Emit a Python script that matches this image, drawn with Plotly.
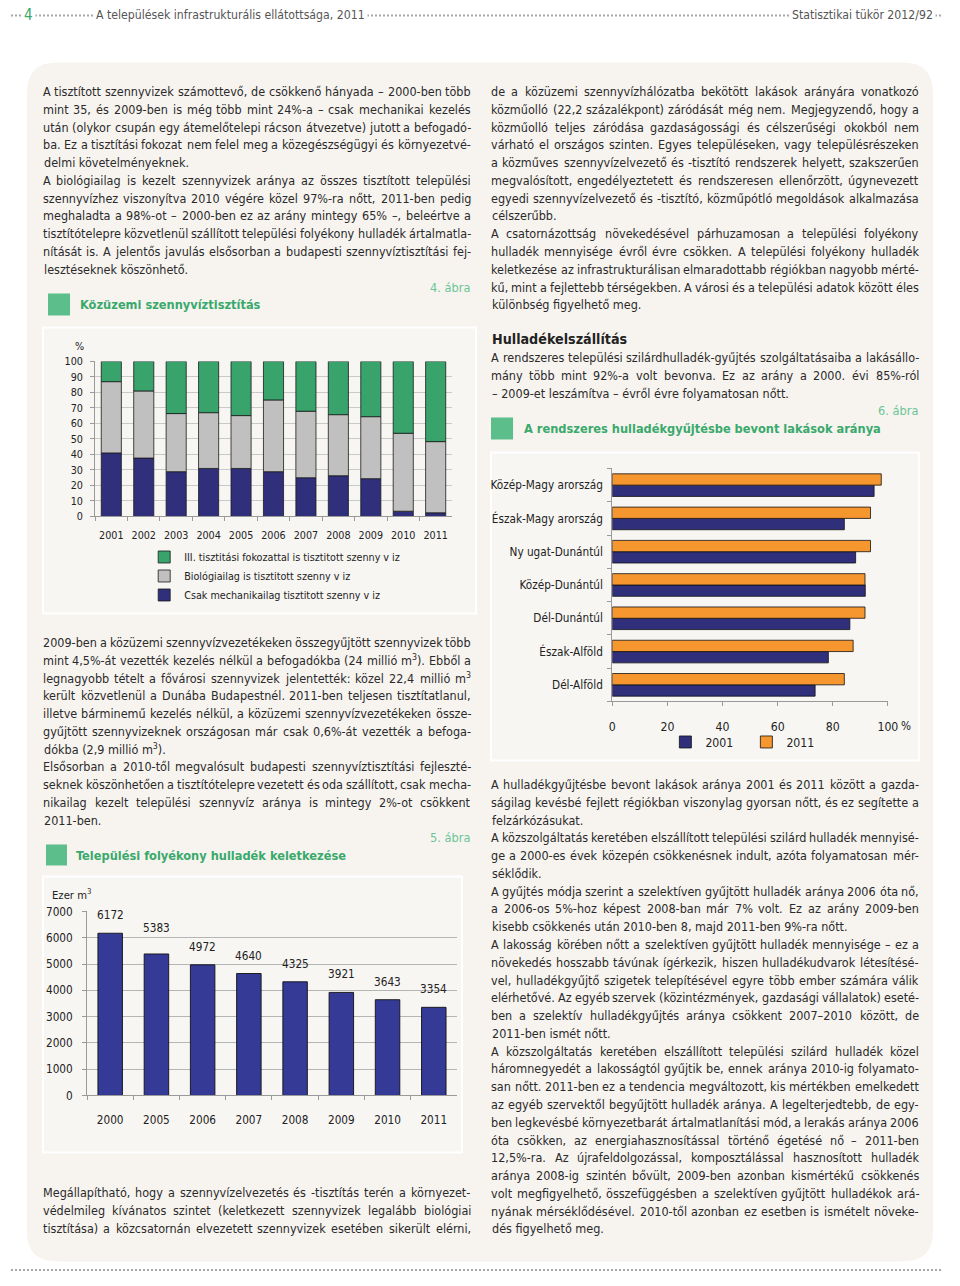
import re
import unicodedata
import plotly.graph_objects as go

# figure size; reference-pixel -> figure-pixel mapping calibrated on the photographed page
FW, FH = 944, 1270
SX, CX = 0.984, 12.1
SY, CY = 0.989, 14.5
def fx(x): return (x - CX) / SX
def fy(y): return (y - CY) / SY
def px(x): return fx(x) / FW
def py(y): return 1 - fy(y) / FH

# ---------------- data ----------------
years4 = ['2001', '2002', '2003', '2004', '2005', '2006', '2007', '2008', '2009', '2010', '2011']
mech4 = [41.0, 37.7, 28.9, 31.0, 31.0, 28.9, 25.0, 26.3, 24.4, 3.4, 2.4]
bio4 = [46.0, 43.3, 37.5, 36.0, 34.1, 46.3, 42.9, 39.4, 40.0, 50.3, 45.9]
third4 = [13.0, 19.0, 33.6, 33.0, 34.9, 24.8, 32.1, 34.3, 35.6, 46.3, 51.7]
names4 = ['Csak mechanikailag tisztitott szenny v iz',
          'Biológiailag is tisztitott szenny v iz',
          'III. tisztitási fokozattal is tisztitott szenny v iz']

years5 = ['2000', '2005', '2006', '2007', '2008', '2009', '2010', '2011']
vals5 = [6172, 5383, 4972, 4640, 4325, 3921, 3643, 3354]

regions6 = ['Közép-Magy arország', 'Észak-Magy arország', 'Ny ugat-Dunántúl', 'Közép-Dunántúl',
            'Dél-Dunántúl', 'Észak-Alföld', 'Dél-Alföld']
v2001 = [95.0, 84.2, 88.3, 91.8, 86.2, 78.4, 73.6]
v2011 = [97.6, 93.7, 93.7, 91.7, 91.7, 87.4, 84.2]
ticks6 = [0, 20, 40, 60, 80, 100]

# ---------------- text (paragraphs as lists of lines) ----------------
left1 = [[
    "A tisztított szennyvizek számottevő, de csökkenő hányada – 2000-ben több",
    "mint 35, és 2009-ben is még több mint 24%-a – csak mechanikai kezelés",
    "után (olykor csupán egy átemelőtelepi rácson átvezetve) jutott a befogadó-",
    "ba. Ez a tisztítási fokozat nem felel meg a közegészségügyi és környezetvé-",
    "delmi követelményeknek.",
], [
    "A biológiailag is kezelt szennyvizek aránya az összes tisztított települési",
    "szennyvízhez viszonyítva 2010 végére közel 97%-ra nőtt, 2011-ben pedig",
    "meghaladta a 98%-ot – 2000-ben ez az arány mintegy 65% –, beleértve a",
    "tisztítótelepre közvetlenül szállított települési folyékony hulladék ártalmatla-",
    "nítását is. A jelentős javulás elsősorban a budapesti szennyvíztisztítási fej-",
    "lesztéseknek köszönhető.",
]]
left2 = [[
    "2009-ben a közüzemi szennyvízvezetékeken összegyűjtött szennyvizek több",
    "mint 4,5%-át vezették kezelés nélkül a befogadókba (24 millió m<sup>3</sup>). Ebből a",
    "legnagyobb tételt a fővárosi szennyvizek jelentették: közel 22,4 millió m<sup>3</sup>",
    "került közvetlenül a Dunába Budapestnél. 2011-ben teljesen tisztítatlanul,",
    "illetve bárminemű kezelés nélkül, a közüzemi szennyvízvezetékeken össze-",
    "gyűjtött szennyvizeknek országosan már csak 0,6%-át vezették a befoga-",
    "dókba (2,9 millió m<sup>3</sup>).",
], [
    "Elsősorban a 2010-től megvalósult budapesti szennyvíztisztítási fejleszté-",
    "seknek köszönhetően a tisztítótelepre vezetett és oda szállított, csak mecha-",
    "nikailag kezelt települési szennyvíz aránya is mintegy 2%-ot csökkent",
    "2011-ben.",
]]
left3 = [[
    "Megállapítható, hogy a szennyvízelvezetés és -tisztítás terén a környezet-",
    "védelmileg kívánatos szintet (keletkezett szennyvizek legalább biológiai",
    "tisztítása) a közcsatornán elvezetett szennyvizek esetében sikerült elérni,",
]]
right1 = [[
    "de a közüzemi szennyvízhálózatba bekötött lakások arányára vonatkozó",
    "közműolló (22,2 százalékpont) záródását még nem. Megjegyzendő, hogy a",
    "közműolló teljes záródása gazdaságossági és célszerűségi okokból nem",
    "várható el országos szinten. Egyes településeken, vagy településrészeken",
    "a közműves szennyvízelvezető és -tisztító rendszerek helyett, szakszerűen",
    "megvalósított, engedélyeztetett és rendszeresen ellenőrzött, úgynevezett",
    "egyedi szennyvízelvezető és -tisztító, közműpótló megoldások alkalmazása",
    "célszerűbb.",
], [
    "A csatornázottság növekedésével párhuzamosan a települési folyékony",
    "hulladék mennyisége évről évre csökken. A települési folyékony hulladék",
    "keletkezése az infrastrukturálisan elmaradottabb régiókban nagyobb mérté-",
    "kű, mint a fejlettebb térségekben. A városi és a települési adatok között éles",
    "különbség figyelhető meg.",
]]
right2 = [[
    "A rendszeres települési szilárdhulladék-gyűjtés szolgáltatásaiba a lakásállo-",
    "mány több mint 92%-a volt bevonva. Ez az arány a 2000. évi 85%-ról",
    "– 2009-et leszámítva – évről évre folyamatosan nőtt.",
]]
right3 = [[
    "A hulladékgyűjtésbe bevont lakások aránya  2001 és 2011 között a gazda-",
    "ságilag kevésbé fejlett régiókban viszonylag gyorsan nőtt, és ez segítette a",
    "felzárkózásukat.",
], [
    "A közszolgáltatás keretében elszállított települési szilárd hulladék mennyisé-",
    "ge a 2000-es évek közepén csökkenésnek indult, azóta folyamatosan mér-",
    "séklődik.",
], [
    "A gyűjtés módja szerint a szelektíven gyűjtött hulladék aránya 2006 óta nő,",
    "a 2006-os 5%-hoz képest 2008-ban már 7% volt. Ez az arány 2009-ben",
    "kisebb csökkenés után 2010-ben 8, majd 2011-ben 9%-ra nőtt.",
], [
    "A lakosság körében nőtt a szelektíven gyűjtött hulladék mennyisége – ez a",
    "növekedés hosszabb távúnak ígérkezik, hiszen hulladékudvarok létesítésé-",
    "vel, hulladékgyűjtő szigetek telepítésével egyre több ember számára válik",
    "elérhetővé. Az egyéb szervek (közintézmények, gazdasági vállalatok) eseté-",
    "ben a szelektív hulladékgyűjtés aránya csökkent 2007–2010 között, de",
    "2011-ben ismét nőtt.",
], [
    "A közszolgáltatás keretében elszállított települési szilárd hulladék közel",
    "háromnegyedét a lakosságtól gyűjtik be, ennek aránya 2010-ig folyamato-",
    "san nőtt. 2011-ben ez a tendencia megváltozott, kis mértékben emelkedett",
    "az egyéb szervektől begyűjtött hulladék aránya. A legelterjedtebb, de egy-",
    "ben legkevésbé környezetbarát ártalmatlanítási mód, a lerakás aránya 2006",
    "óta csökken, az energiahasznosítással történő égetésé nő – 2011-ben",
    "12,5%-ra. Az újrafeldolgozással, komposztálással hasznosított hulladék",
    "aránya 2008-ig szintén bővült, 2009-ben azonban kismértékű csökkenés",
    "volt megfigyelhető, összefüggésben a szelektíven gyűjtött hulladékok ará-",
    "nyának mérséklődésével. 2010-től azonban ez esetben is ismételt növeke-",
    "dés figyelhető meg.",
]]

# ---------------- style ----------------
NARROW = "DejaVu Sans Condensed, Liberation Sans Narrow, sans-serif"
BODY_SIZE = 12.5
COND = 0.912          # condensed width factor vs. regular DejaVu advance widths
TXT = "#2a2a2a"
GREEN_T = "#3aa96c"
GREEN_SQ = "#5cbf8b"
GREEN_LBL = "#6cc596"
C_GREEN = "#38a36b"
C_GRAY = "#c0c0c0"
C_NAVY = "#2f2f7c"
C_NAVY5 = "#343a96"
C_ORANGE = "#f5962f"
PANEL = "#f7f4f0"
LINE_H = 17.78
HEAD_Y = 15

# DejaVu Sans advance widths (units per em 2048) for justification
CW = {' ': 651, '!': 821, '%': 1946, '(': 799, ')': 799, ',': 651, '-': 739, '.': 651, '/': 690,
      ':': 690, ';': 690, '–': 1024, '—': 2048}
for d in '0123456789':
    CW[d] = 1303
CW.update(dict(zip('ABCDEFGHIJKLMNOPQRSTUVWXYZ',
                   [1401, 1405, 1430, 1577, 1294, 1178, 1589, 1540, 604, 604, 1343, 1141, 1767,
                    1532, 1612, 1235, 1612, 1423, 1300, 1251, 1499, 1401, 2025, 1403, 1251, 1403])))
CW.update(dict(zip('abcdefghijklmnopqrstuvwxyz',
                   [1255, 1300, 1126, 1300, 1260, 721, 1300, 1298, 569, 569, 1186, 569, 1995,
                    1298, 1253, 1300, 1300, 842, 1067, 803, 1298, 1212, 1675, 1212, 1212, 1075])))

def units(word):
    tot = 0.0
    for part in re.split(r'(<sup>.*?</sup>)', word):
        if part.startswith('<sup>'):
            inner, f = part[5:-6], 0.7
        else:
            inner, f = part, 1.0
        for ch in inner:
            u = CW.get(ch)
            if u is None:
                u = CW.get(unicodedata.normalize('NFD', ch)[0], 1250)
            tot += u * f
    return tot

fig = go.Figure()

# chart 4: stacked columns
base_bio = mech4
base_third = [m + b for m, b in zip(mech4, bio4)]
for vals, base, col, nm in [(mech4, None, C_NAVY, names4[0]),
                            (bio4, base_bio, C_GRAY, names4[1]),
                            (third4, base_third, C_GREEN, names4[2])]:
    fig.add_trace(go.Bar(x=years4, y=vals, base=base, name=nm, width=0.62,
                         marker=dict(color=col, line=dict(color="#1a1a1a", width=0.8)),
                         xaxis="x", yaxis="y", legend="legend", hoverinfo="skip"))

# chart 5: columns
fig.add_trace(go.Bar(x=years5, y=vals5, width=0.53, showlegend=False,
                     marker=dict(color=C_NAVY5, line=dict(color="#111", width=0.9)),
                     xaxis="x2", yaxis="y2", hoverinfo="skip"))

# chart 6: horizontal grouped bars
fig.add_trace(go.Bar(y=regions6, x=v2001, orientation="h", name="2001", width=0.34, offset=-0.34,
                     marker=dict(color=C_NAVY, line=dict(color="#111", width=0.8)),
                     xaxis="x3", yaxis="y3", legend="legend3", hoverinfo="skip"))
fig.add_trace(go.Bar(y=regions6, x=v2011, orientation="h", name="2011", width=0.34, offset=0,
                     marker=dict(color=C_ORANGE, line=dict(color="#111", width=0.8)),
                     xaxis="x3", yaxis="y3", legend="legend3", hoverinfo="skip"))

shapes = []
def rect(x0, y0, x1, y1, fill, line=None, lw=0):
    shapes.append(dict(type="rect", xref="paper", yref="paper", x0=px(x0), x1=px(x1),
                       y0=py(y1), y1=py(y0), fillcolor=fill, layer="below",
                       line=dict(color=line or fill, width=lw)))

def rounded(x0, y0, x1, y1, r, fill):
    pts = lambda x, y: f"{px(x):.5f},{py(y):.5f}"
    p = (f"M{pts(x0 + r, y0)} L{pts(x1 - r, y0)} Q{pts(x1, y0)} {pts(x1, y0 + r)} "
         f"L{pts(x1, y1 - r)} Q{pts(x1, y1)} {pts(x1 - r, y1)} L{pts(x0 + r, y1)} "
         f"Q{pts(x0, y1)} {pts(x0, y1 - r)} L{pts(x0, y0 + r)} Q{pts(x0, y0)} {pts(x0 + r, y0)} Z")
    shapes.append(dict(type="path", xref="paper", yref="paper", path=p, fillcolor=fill,
                       line=dict(width=0), layer="below"))

rounded(28, 62, 932, 1261, 30, PANEL)
rect(44, 327, 476, 613, "#f8f6f3", "#ffffff", 2)
rect(44, 876, 462, 1152, "#f8f6f3", "#ffffff", 2)
rect(491, 452, 918, 760, "#f8f6f3", "#ffffff", 2)
rect(49, 293, 71, 315, GREEN_SQ)
rect(47, 844, 68, 865, GREEN_SQ)
rect(491, 417, 513, 439, GREEN_SQ)
for yy in (py(HEAD_Y), 1.0 / FH):
    shapes.append(dict(type="line", xref="paper", yref="paper", x0=0, x1=1, y0=yy, y1=yy,
                       line=dict(color="#a8a8a8", width=2, dash="2px,2px"), layer="below"))

ann = []
def t(text, x, y, size=BODY_SIZE, color=TXT, anchor="left", bg=None, pad=0):
    d = dict(text=text, x=px(x), y=py(y), xref="paper", yref="paper", xanchor=anchor,
             yanchor="middle", showarrow=False, borderpad=pad,
             font=dict(size=size, color=color, family=NARROW))
    if bg:
        d.update(bgcolor=bg, borderpad=2)
    ann.append(d)

def word_line(line, x0, x1, y, size):
    words = line.split()
    f0, f1 = fx(x0), fx(x1)
    ws = [units(w) * size / 2048 * COND for w in words]
    gap = (f1 - f0 - sum(ws)) / (len(words) - 1)
    cur = f0
    for w, wd in zip(words, ws):
        ann.append(dict(text=w, x=(cur + wd / 2) / FW, y=py(y), xref="paper", yref="paper",
                        xanchor="center", yanchor="middle", showarrow=False, borderpad=0,
                        font=dict(size=size, color=TXT, family=NARROW)))
        cur += wd + gap

def block(paras, x0, x1, y0, last_justified=False, size=BODY_SIZE):
    i = 0
    for pi, para in enumerate(paras):
        for li, ln in enumerate(para):
            y = y0 + i * LINE_H
            is_last = li == len(para) - 1 and not (last_justified and pi == len(paras) - 1)
            if is_last or len(ln.split()) < 2:
                t(ln, x0, y, size)
            else:
                word_line(ln, x0, x1, y, size)
            i += 1

# header
t("4", 30, HEAD_Y, 15, "#3aa96c", "center", bg="white")
t("A települések infrastrukturális ellátottsága, 2011", 94, HEAD_Y, 12.2, "#555", "left", bg="white")
t("Statisztikai tükör 2012/92", 935, HEAD_Y, 12.2, "#555", "right", bg="white")

block(left1, 44, 471, 91)
t("4. ábra", 471, 287, 12.7, GREEN_LBL, "right")
t("<b>Közüzemi szennyvíztisztítás</b>", 80, 304, 12.7, GREEN_T)
block(left2, 44, 471, 642)
t("5. ábra", 471, 837, 12.7, GREEN_LBL, "right")
t("<b>Települési folyékony hulladék keletkezése</b>", 76, 855, 12.7, GREEN_T)
block(left3, 44, 471, 1192, last_justified=True)

block(right1, 491, 918, 91)
t("<b>Hulladékelszállítás</b>", 491, 339, 14.2, "#222")
block(right2, 491, 918, 357)
t("6. ábra", 918, 410, 12.7, GREEN_LBL, "right")
t("<b>A rendszeres hulladékgyűjtésbe bevont lakások aránya</b>", 523, 428, 12.7, GREEN_T)
block(right3, 491, 918, 784)

# chart labels
t("%", 80, 346, 10.7, "#222", "center")
t("Ezer m<sup>3</sup>", 52, 894, 11.2, "#222", "left")
t("%", 905, 726, 11.7, "#222", "center")

# chart 5 data labels (through axis, category index positions)
shift5 = [18, 26, 18, 18, 18, 18, 18, 18]
for i, (yv, s) in enumerate(zip(vals5, shift5)):
    ann.append(dict(text=str(yv), x=i, y=yv, xref="x2", yref="y2", yshift=s, showarrow=False,
                    font=dict(size=11.7, color="#222", family=NARROW)))

axis_common = dict(showline=True, linecolor="#9a9a9a", linewidth=1, ticks="outside", ticklen=4,
                   tickcolor="#9a9a9a", zeroline=False, fixedrange=True)

fig.update_layout(
    width=FW, height=FH, margin=dict(l=0, r=0, t=0, b=0),
    paper_bgcolor="white", plot_bgcolor="rgba(0,0,0,0)", barmode="overlay",
    shapes=shapes, annotations=ann,
    font=dict(family=NARROW, color="#222"),
    xaxis=dict(domain=[px(96), px(452)], anchor="y", type="category", tickson="boundaries",
               range=[-0.5, 10.5], showgrid=False, tickangle=0,
               tickfont=dict(size=10.7, family=NARROW, color="#222"),
               ticklabelstandoff=9, **axis_common),
    yaxis=dict(domain=[py(516), py(361)], anchor="x", range=[0, 100], dtick=10, showgrid=True,
               gridcolor="#c9c9c9", gridwidth=1, tickfont=dict(size=10.7, family=NARROW, color="#222"),
               ticklabelstandoff=5, **axis_common),
    xaxis2=dict(domain=[px(88), px(457)], anchor="y2", type="category", tickson="boundaries",
                range=[-0.5, 7.5], showgrid=False, tickangle=0,
                tickfont=dict(size=11.7, family=NARROW, color="#222"),
                ticklabelstandoff=13, **axis_common),
    yaxis2=dict(domain=[py(1095), py(911)], anchor="x2", range=[0, 7000], dtick=1000, showgrid=True,
                gridcolor="#b5b5b5", gridwidth=1, tickfont=dict(size=11.7, family=NARROW, color="#222"),
                ticklabelstandoff=7, **axis_common),
    xaxis3=dict(domain=[px(612), px(887)], anchor="y3", range=[0, 100], tickvals=ticks6,
                showgrid=False, tickfont=dict(size=12.2, family=NARROW, color="#222"),
                ticklabelstandoff=10, **axis_common),
    yaxis3=dict(domain=[py(701), py(468)], anchor="x3", type="category", categoryorder="array",
                categoryarray=regions6[::-1], tickson="boundaries", showgrid=False,
                tickfont=dict(size=11.7, family=NARROW, color="#222"), ticklabelstandoff=6,
                **axis_common),
    legend=dict(x=px(145), y=py(542), xanchor="left", yanchor="top", traceorder="reversed",
                bgcolor="rgba(0,0,0,0)", font=dict(size=10.7, family=NARROW, color="#222"),
                tracegroupgap=0),
    legend3=dict(x=px(665), y=py(727), xanchor="left", yanchor="top", orientation="h",
                 bgcolor="rgba(0,0,0,0)", font=dict(size=12.2, family=NARROW, color="#222"),
                 entrywidth=36, entrywidthmode="pixels"),
)

fig.write_html("out.html")
